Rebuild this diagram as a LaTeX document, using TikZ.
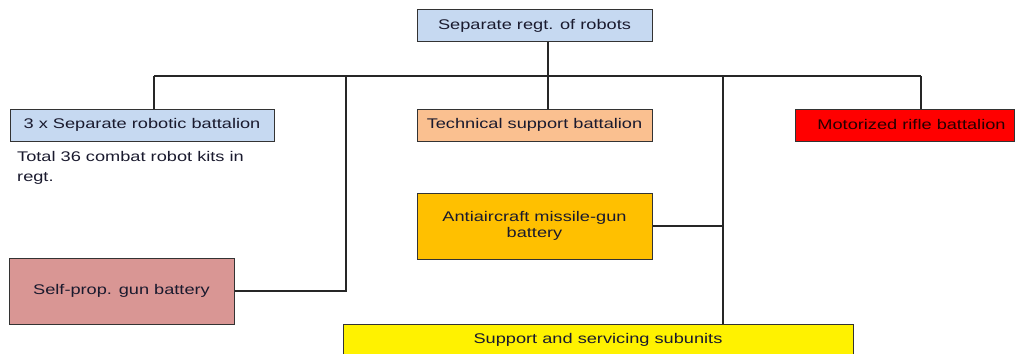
\documentclass[tikz,border=0pt]{standalone}
\usepackage{fontspec}
\setmainfont[FakeStretch=1.3]{Liberation Sans}
\definecolor{lblue}{HTML}{C6D9F1}
\definecolor{lorange}{HTML}{FAC090}
\definecolor{amber}{HTML}{FFC000}
\definecolor{rose}{HTML}{D99694}
\definecolor{txt}{HTML}{1A1A2E}
\begin{document}
\begin{tikzpicture}[x=1pt,y=-1pt,
  unit/.style={draw=black!80,line width=1pt,inner sep=0pt,font=\fontsize{14}{17}\selectfont,text=txt,align=center},
  link/.style={draw=black!85,line width=1.2pt}]
\useasboundingbox (0,0) rectangle (1016,353);
\node[unit,fill=lblue,minimum width=235pt,minimum height=32pt] (top) at (534.5,26) {Separate regt. of robots};
\node[unit,fill=lblue,minimum width=264pt,minimum height=32pt] (rob) at (142,125) {3 x Separate robotic battalion};
\node[unit,fill=lorange,minimum width=235pt,minimum height=32pt] (tech) at (534.5,125) {\raisebox{1.5pt}{Technical support battalion}};
\node[unit,fill=red,minimum width=219pt,minimum height=32pt,text=black!85!red] (mot) at (904.5,125) {\hspace*{14pt}\raisebox{1.5pt}{Motorized rifle battalion}};
\node[unit,fill=amber,minimum width=235pt,minimum height=66pt] (aa) at (534.5,226) {\raisebox{2pt}{\begin{tabular}{@{}c@{}}Antiaircraft missile-gun\\[-1pt]battery\end{tabular}}};
\node[unit,fill=rose,minimum width=225pt,minimum height=66pt] (sp) at (121.5,291) {Self-prop. gun battery};
\node[unit,fill=yellow,minimum width=510pt,minimum height=30pt,anchor=north] (sup) at (598,324) {Support and servicing subunits};
\node[anchor=north west,align=left,inner sep=0pt,font=\fontsize{14}{20}\selectfont,text=txt] (note) at (17,151) {Total 36 combat robot kits in\\regt.};
\coordinate (bus) at (548,76);
\coordinate (bl) at (154,76);
\coordinate (br) at (921,76);
\coordinate (c1) at (346,76);
\coordinate (c2) at (723,76);
\draw[link] (bl) -- (br);
\draw[link] (top.south -| bus) -- (bus);
\draw[link] (bus) -- (tech.north -| bus);
\draw[link] (bl) -- (rob.north -| bl);
\draw[link] (br) -- (mot.north -| br);
\draw[link] (c1) |- (sp.east);
\draw[link] (c2) -- (sup.north -| c2);
\draw[link] (aa.east) -- (aa.east -| c2);
\end{tikzpicture}
\end{document}
